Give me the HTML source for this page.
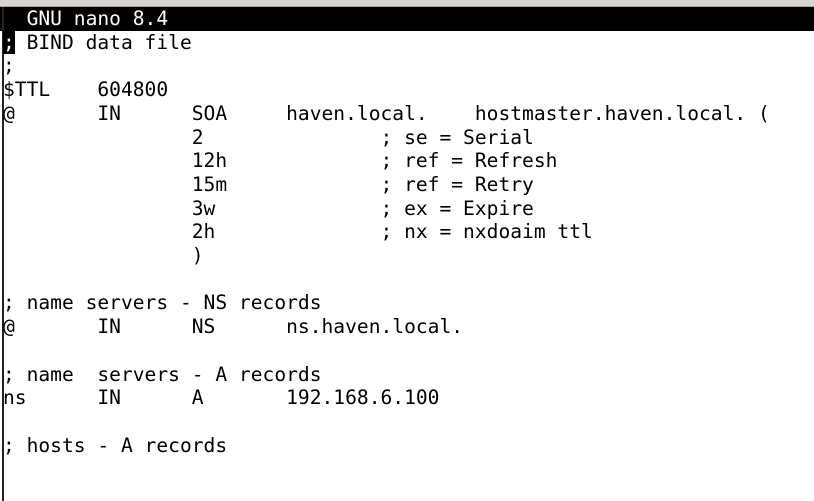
<!DOCTYPE html>
<html><head><meta charset="utf-8"><style>
html,body{margin:0;padding:0;background:#fff;width:814px;height:501px;overflow:hidden;position:relative}
.top{position:absolute;left:0;top:0;width:814px;height:6px;background:#d8d4cf}
.top2{position:absolute;left:0;top:6px;width:814px;height:1px;background:#a9a6a2}
.bar{position:absolute;left:0;top:7px;width:814px;height:24px;background:#000}
.border{position:absolute;left:2px;top:7px;width:2px;height:494px;background:#222}
pre{position:absolute;left:3px;top:7px;margin:0;font-family:"DejaVu Sans Mono","Liberation Mono",monospace;font-size:19.6px;line-height:23.7px;color:#000}
.t{color:#fff}
.c{background:#000;color:#fff}
</style></head><body>
<div class="top"></div><div class="top2"></div><div class="bar"></div><div class="border"></div>
<pre><span class="t">  GNU nano 8.4</span>
<span class="c">;</span> BIND data file
;
$TTL    604800
@       IN      SOA     haven.local.    hostmaster.haven.local. (
                2               ; se = Serial
                12h             ; ref = Refresh
                15m             ; ref = Retry
                3w              ; ex = Expire
                2h              ; nx = nxdoaim ttl
                )

; name servers - NS records
@       IN      NS      ns.haven.local.

; name  servers - A records
ns      IN      A       192.168.6.100

; hosts - A records
</pre>
</body></html>
